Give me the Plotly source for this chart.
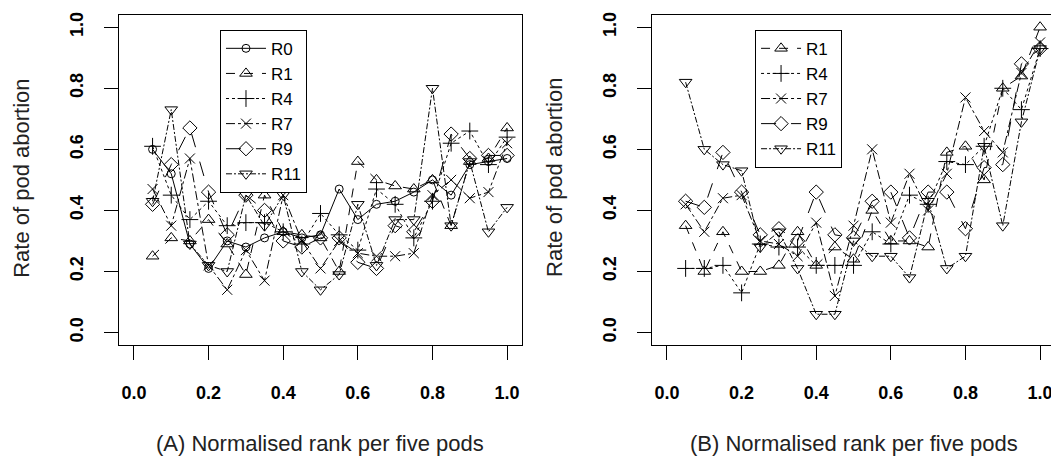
import plotly.graph_objects as go

# normalised rank per five pods
rank = [0.05, 0.10, 0.15, 0.20, 0.25, 0.30, 0.35, 0.40, 0.45, 0.50,
        0.55, 0.60, 0.65, 0.70, 0.75, 0.80, 0.85, 0.90, 0.95, 1.00]

# (A) rate of pod abortion
a_r0 = [0.60, 0.52, 0.29, 0.21, 0.30, 0.28, 0.31, 0.33, 0.31, 0.32,
        0.47, 0.37, 0.42, 0.43, 0.46, 0.50, 0.45, 0.55, 0.56, 0.57]
a_r1 = [0.25, 0.31, 0.30, 0.37, 0.29, 0.19, 0.45, 0.33, 0.32, 0.31,
        0.20, 0.56, 0.50, 0.48, 0.47, 0.50, 0.35, 0.56, 0.57, 0.67]
a_r4 = [0.61, 0.45, 0.37, 0.43, 0.35, 0.36, 0.36, 0.33, 0.29, 0.39,
        0.32, 0.27, 0.47, 0.42, 0.31, 0.43, 0.62, 0.66, 0.55, 0.64]
a_r7 = [0.47, 0.35, 0.57, 0.22, 0.14, 0.27, 0.17, 0.45, 0.30, 0.21,
        0.30, 0.26, 0.25, 0.25, 0.26, 0.45, 0.50, 0.44, 0.46, 0.62]
a_r9 = [0.42, 0.55, 0.67, 0.46, 0.32, 0.45, 0.40, 0.30, 0.28, 0.31,
        0.31, 0.23, 0.21, 0.35, 0.33, 0.43, 0.65, 0.57, 0.58, 0.58]
a_r11 = [0.43, 0.73, 0.29, 0.22, 0.20, 0.45, 0.35, 0.45, 0.20, 0.14,
         0.19, 0.42, 0.22, 0.37, 0.37, 0.80, 0.35, 0.56, 0.33, 0.41]

# (B) rate of pod abortion
b_r1 = [0.35, 0.20, 0.33, 0.20, 0.20, 0.22, 0.33, 0.22, 0.28, 0.24,
        0.40, 0.30, 0.30, 0.28, 0.59, 0.61, 0.50, 0.80, 0.84, 1.00]
b_r4 = [0.21, 0.21, 0.22, 0.13, 0.29, 0.28, 0.28, 0.22, 0.22, 0.22,
        0.33, 0.29, 0.45, 0.42, 0.56, 0.55, 0.61, 0.80, 0.73, 0.93]
b_r7 = [0.42, 0.33, 0.44, 0.45, 0.30, 0.29, 0.25, 0.36, 0.12, 0.35,
        0.60, 0.36, 0.52, 0.40, 0.52, 0.77, 0.66, 0.59, 0.85, 0.95]
b_r9 = [0.43, 0.41, 0.59, 0.46, 0.32, 0.34, 0.30, 0.46, 0.32, 0.31,
        0.43, 0.46, 0.31, 0.46, 0.46, 0.34, 0.54, 0.55, 0.88, 0.93]
b_r11 = [0.82, 0.60, 0.55, 0.53, 0.28, 0.33, 0.21, 0.06, 0.06, 0.30,
         0.25, 0.25, 0.18, 0.43, 0.21, 0.25, 0.61, 0.35, 0.69, 0.93]

styles = {
    "R0": dict(symbol="circle-open", dash="solid", size=8),
    "R1": dict(symbol="triangle-up-open", dash="dash", size=11),
    "R4": dict(symbol="cross-thin-open", dash="dot", size=12),
    "R7": dict(symbol="x-thin-open", dash="dashdot", size=10),
    "R9": dict(symbol="diamond-open", dash="longdash", size=11),
    "R11": dict(symbol="triangle-down-open", dash="6px,2px,2px,2px", size=11),
}

panel_a = {"R0": a_r0, "R1": a_r1, "R4": a_r4, "R7": a_r7, "R9": a_r9, "R11": a_r11}
panel_b = {"R1": b_r1, "R4": b_r4, "R7": b_r7, "R9": b_r9, "R11": b_r11}

FONT = "Liberation Sans, Arial, sans-serif"

fig = go.Figure()

for name, vals in panel_a.items():
    s = styles[name]
    fig.add_trace(go.Scatter(
        x=rank, y=vals, name=name, mode="lines+markers",
        xaxis="x", yaxis="y", legend="legend",
        line=dict(color="black", width=1, dash=s["dash"]),
        marker=dict(symbol=s["symbol"], size=s["size"], color="black",
                    line=dict(width=1, color="black")),
    ))

for name, vals in panel_b.items():
    s = styles[name]
    fig.add_trace(go.Scatter(
        x=rank, y=vals, name=name, mode="lines+markers",
        xaxis="x2", yaxis="y2", legend="legend2",
        line=dict(color="black", width=1, dash=s["dash"]),
        marker=dict(symbol=s["symbol"], size=s["size"], color="black",
                    line=dict(width=1, color="black")),
    ))

ticks = [0.0, 0.2, 0.4, 0.6, 0.8, 1.0]
tick_txt = ["0.0", "0.2", "0.4", "0.6", "0.8", "1.0"]

axis_common = dict(
    range=[-0.04, 1.04], showgrid=False, zeroline=False,
    showline=True, linecolor="black", linewidth=1, mirror=True,
    ticks="outside", ticklen=14, tickwidth=1, tickcolor="black",
    tickvals=ticks, ticktext=tick_txt,
    tickfont=dict(family=FONT, size=18, color="black", weight="bold"),
)

xa = dict(axis_common, ticklabelstandoff=18)
ya = dict(axis_common, tickangle=-90, ticklabelstandoff=14)

legend_common = dict(
    bgcolor="white", bordercolor="black", borderwidth=1,
    font=dict(family=FONT, size=17, color="black"),
    xanchor="left", yanchor="top", itemwidth=40, tracegroupgap=0,
)

# page body has an 8px margin, so the figure is 8px smaller than the window
fig.update_layout(
    width=1051, height=450,
    margin=dict(l=0, r=0, t=0, b=0),
    paper_bgcolor="white", plot_bgcolor="white",
    xaxis=dict(xa, domain=[0.1056, 0.4891], anchor="y"),
    yaxis=dict(ya, domain=[0.2533, 0.9911], anchor="x"),
    xaxis2=dict(xa, domain=[0.6128, 0.9962], anchor="y2"),
    yaxis2=dict(ya, domain=[0.2533, 0.9911], anchor="x2"),
    legend=dict(legend_common, x=0.2017, y=0.958),
    legend2=dict(legend_common, x=0.7108, y=0.958),
    font=dict(family=FONT, color="black"),
)

titles = [
    ("(A) Normalised rank per five pods", 0.2973, 0.0333, 0),
    ("(B) Normalised rank per five pods", 0.8045, 0.0333, 0),
    ("Rate of pod abortion", 0.0133, 0.6267, -90),
    ("Rate of pod abortion", 0.5205, 0.6267, -90),
]
for text, x, y, ang in titles:
    fig.add_annotation(
        text=text, xref="paper", yref="paper", x=x, y=y,
        xanchor="center", yanchor="middle",
        showarrow=False, textangle=ang,
        font=dict(family=FONT, size=22, color="#222"),
    )

fig.write_html("out.html")
